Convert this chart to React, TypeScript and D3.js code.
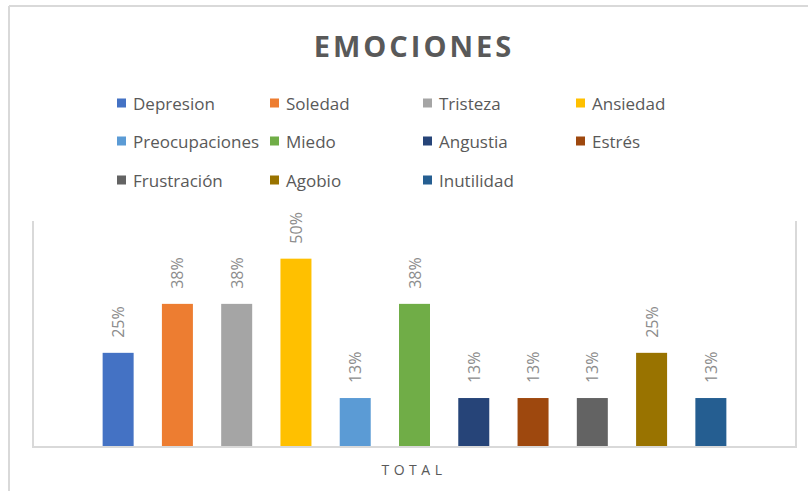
import React from "react";
import * as d3 from "d3";

const categories = ["TOTAL"];
const seriesNames = [
  "Depresion", "Soledad", "Tristeza", "Ansiedad", "Preocupaciones", "Miedo",
  "Angustia", "Estrés", "Frustración", "Agobio", "Inutilidad",
];
const seriesValues = [0.25, 0.38, 0.38, 0.5, 0.13, 0.38, 0.13, 0.13, 0.13, 0.25, 0.13];
const seriesColors = [
  "#4472c4", "#ed7d31", "#a5a5a5", "#ffc000", "#5b9bd5", "#70ad47",
  "#264478", "#9e480e", "#636363", "#997300", "#255e91",
];
const yDomain = [0, 0.6];

const W = 808;
const H = 491;

export default function App() {
  const plot = { left: 33, right: 796, top: 221, bottom: 447 };
  const xCat = d3.scaleBand().domain(categories).range([plot.left, plot.right]).paddingInner(0).paddingOuter(0.1);
  const catX = xCat(categories[0]) as number;
  const catW = xCat.bandwidth();
  const groupW = 652;
  const gx0 = catX + (catW - groupW) / 2;
  const xSer = d3.scaleBand().domain(seriesNames).range([gx0, gx0 + groupW]).paddingInner(0.477).paddingOuter(0.2385);
  const y = d3.scaleLinear().domain(yDomain).range([plot.bottom, plot.top]);
  const fmt = d3.format(".0%");

  const legendCols = [117, 270, 423, 576];
  const legendRows = [103, 141, 180];

  return (
    <div style={{ position: "absolute", left: 0, top: 0 }}>
      <svg width={W} height={H} style={{ display: "block" }} fontFamily="'Open Sans', sans-serif">
        <rect x={0} y={0} width={W} height={H} fill="#fff" />
        {/* outer chart border */}
        <line x1={9} y1={6} x2={W + 5} y2={6} stroke="#d9d9d9" strokeWidth={2} />
        <line x1={9} y1={6} x2={9} y2={H + 5} stroke="#d9d9d9" strokeWidth={2} />
        {/* title */}
        <text x={414} y={57} textAnchor="middle" fontSize={29} fontWeight={700} fill="#595959" letterSpacing={3}>
          EMOCIONES
        </text>
        {/* legend */}
        {seriesNames.map((name, i) => {
          const cx = legendCols[i % 4];
          const cy = legendRows[Math.floor(i / 4)];
          return (
            <g key={name}>
              <rect x={cx} y={cy - 4.5} width={9} height={9} fill={seriesColors[i]} />
              <text x={cx + 16} y={cy} dominantBaseline="central" fontSize={17} fill="#595959">
                {name}
              </text>
            </g>
          );
        })}
        {/* plot area border */}
        <path
          d={`M${plot.left},${plot.top}V${plot.bottom}H${plot.right}V${plot.top}`}
          fill="none"
          stroke="#d9d9d9"
          strokeWidth={2}
        />
        {/* bars */}
        {seriesNames.map((name, i) => {
          const bx = xSer(name) as number;
          const bw = xSer.bandwidth();
          const top = y(seriesValues[i]);
          const lx = bx + bw / 2;
          const ly = top - 15;
          return (
            <g key={name}>
              <rect x={bx} y={top} width={bw} height={plot.bottom - 1 - top} fill={seriesColors[i]} />
              <text
                transform={`translate(${lx},${ly}) rotate(-90)`}
                textAnchor="start"
                dominantBaseline="central"
                fontSize={16}
                fill="#8c8c8c"
              >
                {fmt(seriesValues[i])}
              </text>
            </g>
          );
        })}
        {/* category axis label */}
        <text x={414} y={469} textAnchor="middle" dominantBaseline="central" fontSize={14} fill="#595959" letterSpacing={4.5}>
          {categories[0]}
        </text>
      </svg>
    </div>
  );
}
